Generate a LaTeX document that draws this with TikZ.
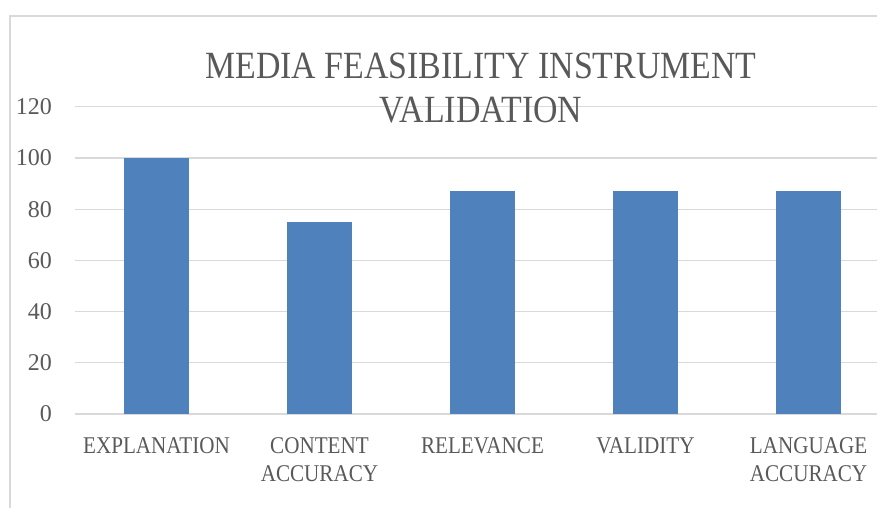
\documentclass[tikz,border=0pt]{standalone}
\usepackage{fontspec}
\setmainfont{Liberation Serif}[FakeStretch=0.88]
\newfontfamily\tickfont{Liberation Serif}
\usepackage{xcolor}
\definecolor{barblue}{HTML}{4F81BD}
\definecolor{textgray}{HTML}{595959}
\definecolor{gridgray}{HTML}{D9D9D9}

\begin{document}
\begin{tikzpicture}[x=1pt, y=-1pt,
	gridline/.style = {gridgray, line width=1.2pt},
	bar/.style      = {fill=barblue, draw=none},
	ticklabel/.style = {text=textgray, inner sep=0pt, anchor=east,
		font=\tickfont\fontsize{24}{28}\selectfont},
	catlabel/.style  = {text=textgray, inner sep=0pt, anchor=north, align=center,
		font=\fontsize{24}{28}\selectfont}]
				%\draw[help lines] (0,0) grid (877,508);
				\useasboundingbox (0,0) rectangle (877,508);
				
				% chart frame
				\draw[gridgray, line width=1.2pt] (10,508) -- (10,16) -- (877,16);
				
				% grid and axis values
				\foreach \v in {0,20,...,120}{
					\draw[gridline] (75,414-2.56*\v) -- (877,414-2.56*\v);
					\node[ticklabel] (y\v) at (52,414-2.56*\v) {\v};
				}
				
				% bars
				\foreach \i/\v in {0/100, 1/75, 2/87, 3/87, 4/87}{
					\fill[bar] (124+163*\i,414) rectangle (189+163*\i,414-2.56*\v);
				}
				
				\node[catlabel] (c1) at (156.5,437) {EXPLANATION};
				\node[catlabel] (c2) at (319.5,437) {CONTENT\\ACCURACY};
				\node[catlabel] (c3) at (482.5,437) {RELEVANCE};
				\node[catlabel] (c4) at (645.5,437) {VALIDITY};
				\node[catlabel] (c5) at (808.5,437) {LANGUAGE\\ACCURACY};
				
				\node[text=textgray, inner sep=0pt, anchor=north, align=center,
				font=\fontsize{38.5}{44}\selectfont] (title) at (481,53)
				{MEDIA FEASIBILITY INSTRUMENT\\VALIDATION};
\end{tikzpicture}
\end{document}
